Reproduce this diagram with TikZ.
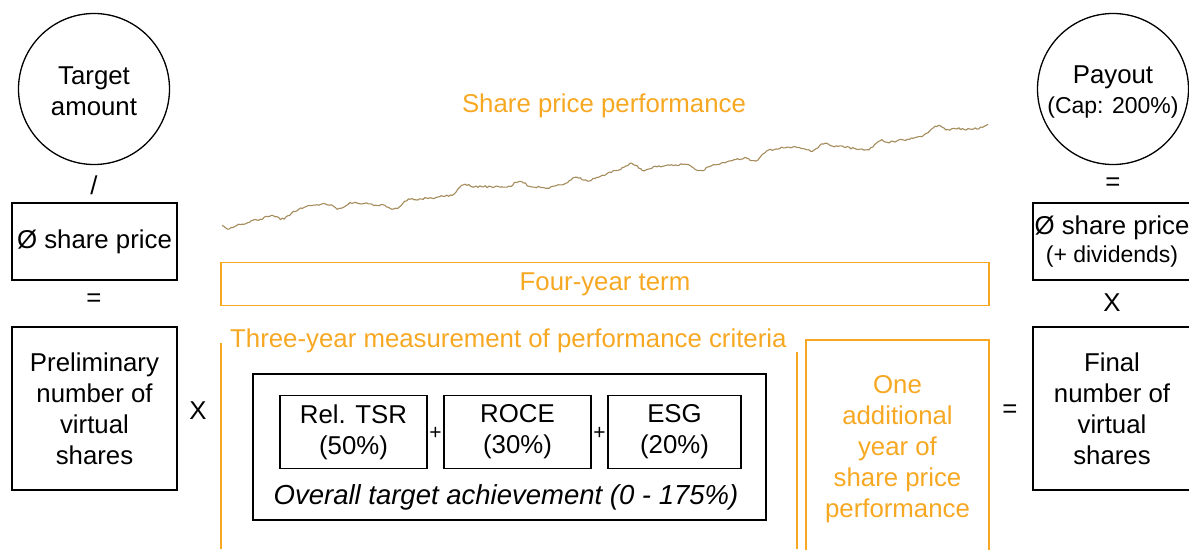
\documentclass[tikz,border=0pt]{standalone}
\usepackage{fontspec}
\setmainfont{Liberation Sans}
\usepackage{tikz}
\usetikzlibrary{positioning, calc}
\definecolor{lto}{HTML}{F7A823}
\definecolor{pricetan}{HTML}{A48C5C}

\begin{document}
\begin{tikzpicture}[x=1pt, y=-1pt,
    every node/.style={font=\fontsize{25.8}{31}\selectfont, inner sep=0pt, align=center},
    blackbox/.style={rectangle, draw=black, line width=1.3pt},
    roundbox/.style={circle, draw=black, line width=1.3pt, minimum size=151},
    orangebox/.style={rectangle, draw=lto, line width=1.3pt},
    orangeline/.style={draw=lto, line width=1.3pt},
    op/.style={text=black},
    plus/.style={font=\fontsize{21}{24}\selectfont}]

    \useasboundingbox (0,0) rectangle (1189,549);

    % left column: target amount / price = preliminary shares
    \node[roundbox] (target) at (94,89) {};
    \node (targettxt) at (94,91) {Target\\amount};
    \node[op] (div) at (94,185) {/};
    \node[blackbox, minimum width=165, minimum height=77] (avgprice) at (94.5,241.5) {Ø share price};
    \node[op] (eq1) at (94,300) {=};
    \node[blackbox, minimum width=165, minimum height=163] (prelim) at (94.5,408.5) {Preliminary\\number of\\virtual\\shares};
    \node[op] (times1) at (198,411) {X};

    % share price development over the term
    \node[text=lto] (perf) at (604,106) {Share price performance};
    \pgfmathsetseed{7}
    \draw[pricetan, line width=1.1pt, line join=round, shift={(222,222)}]
        plot[domain=0:766, samples=420]
        (\x, {-0.1230*\x + 4*sin(2.3*\x+40) + 2.5*sin(6.9*\x+10) + 1.4*sin(13*\x) + 0.8*sin(19*\x+20) + 0.9*rand});

    \node[orangebox, minimum width=768, minimum height=43, text=lto] (term) at (605,284) {Four-year term};

    % three-year measurement
    \draw[orangeline] (221,549) -- (221,343);
    \draw[orangeline] (797,549) -- (797,352);
    \node[text=lto, anchor=west] (measure) at (230,341) {Three-year measurement of performance criteria};

    \node[blackbox, minimum width=513, minimum height=146] (kpis) at (509.5,447) {};
    \node[blackbox, minimum width=147, minimum height=73] (tsr) at (353.5,432) {Rel. TSR\\(50\%)};
    \node[plus] (plus1) at (435.5,433) {+};
    \node[blackbox, minimum width=147, minimum height=73] (roce) at (517.5,432) {ROCE\\(30\%)};
    \node[plus] (plus2) at (599.5,433) {+};
    \node[blackbox, minimum width=133, minimum height=73] (esg) at (674.5,432) {ESG\\(20\%)};
    \node[font=\fontsize{27.5}{31}\selectfont\itshape] (overall) at (506,497) {Overall target achievement (0 - 175\%)};

    % additional year
    \draw[orangeline] (806,560) -- (806,340) -- (989,340) -- (989,560);
    \node[text=lto] (extra) at (897.5,449) {One\\additional\\year of\\share price\\performance};

    % right column: final shares x price = payout
    \node[op] (eq2) at (1010,411) {=};
    \node[blackbox, minimum width=170, minimum height=163] (final) at (1118,408.5) {};
    \node (finaltxt) at (1112,409) {Final\\number of\\virtual\\shares};
    \node[op] (times2) at (1112,303) {X};
    \node[blackbox, minimum width=170, minimum height=77] (divprice) at (1118,241.5) {};
    \node (divtxt) at (1112,242) {Ø share price\\[-3pt]{\fontsize{23}{24}\selectfont(+ dividends)}};
    \node[op] (eq3) at (1113,184) {=};
    \node[roundbox] (payout) at (1113,89) {};
    \node (payouttxt) at (1113,92) {Payout\\[-1pt]{\fontsize{23}{24}\selectfont(Cap: 200\%)}};

\end{tikzpicture}
\end{document}
